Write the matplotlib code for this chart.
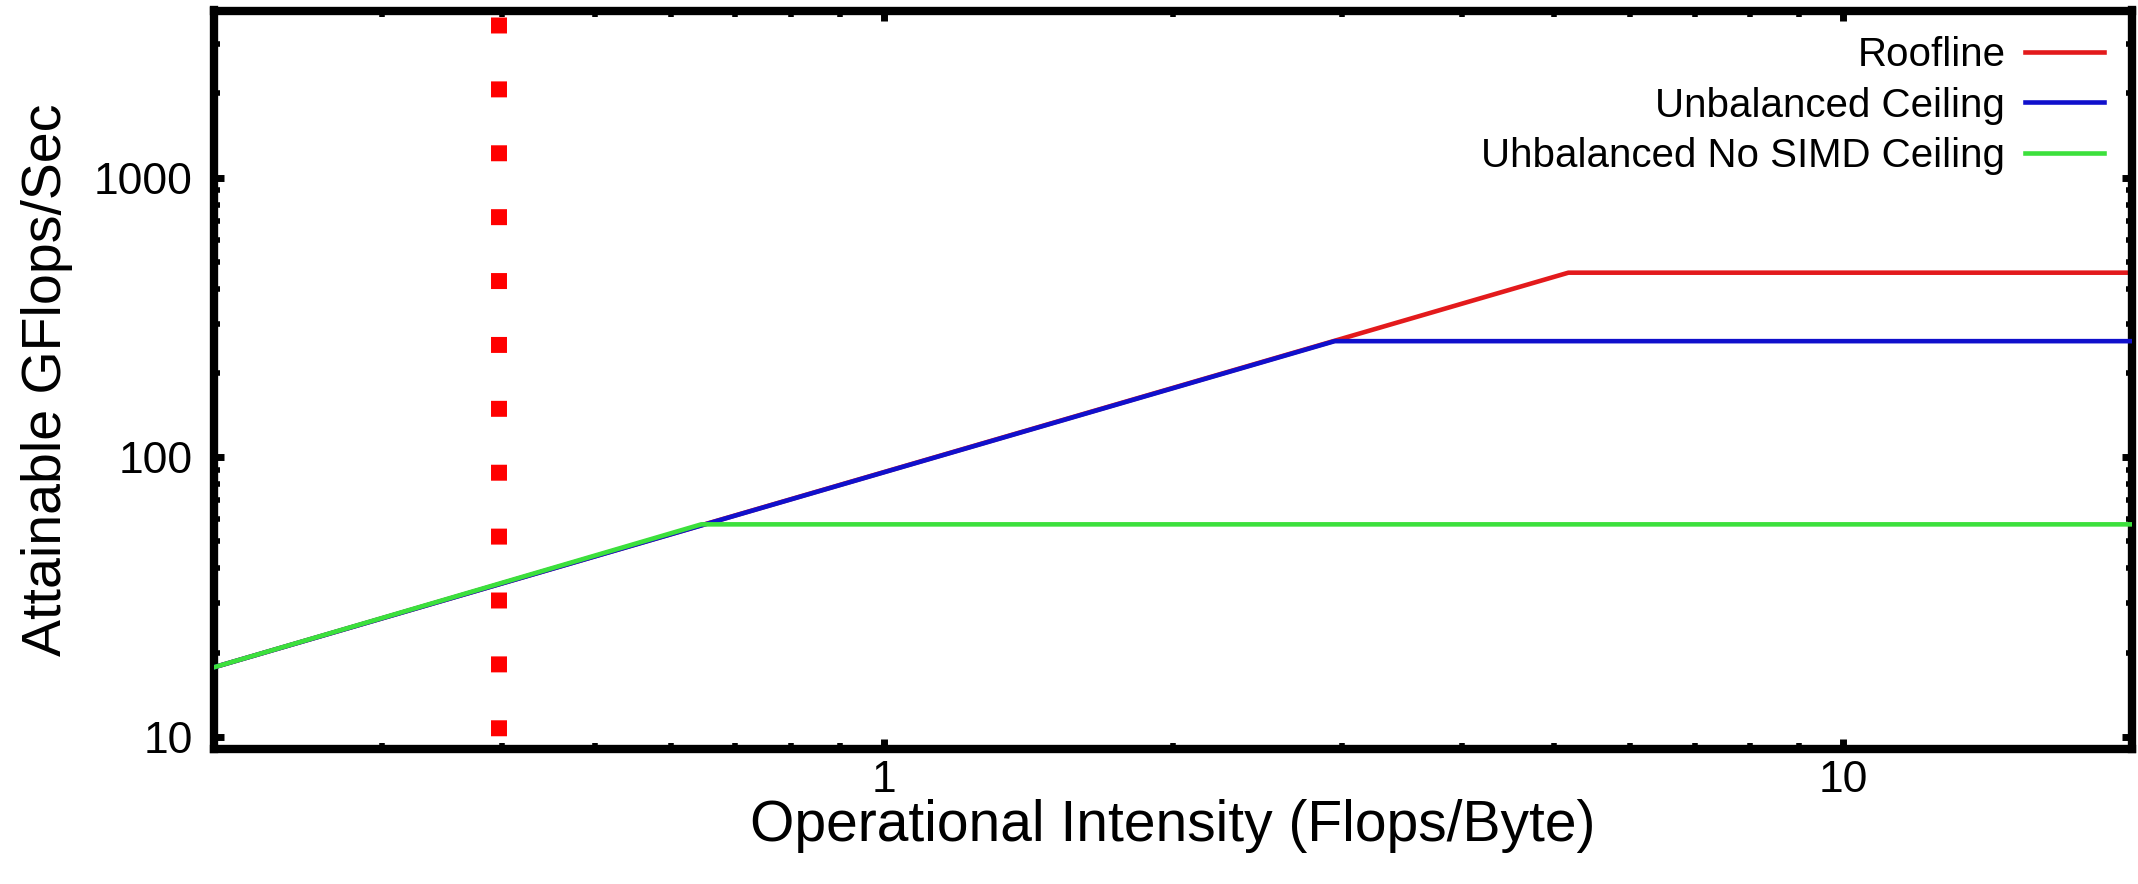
import matplotlib
matplotlib.use("Agg")
import matplotlib.pyplot as plt
from matplotlib.ticker import LogLocator, FuncFormatter, NullFormatter

plt.rcParams['font.family'] = ['Liberation Sans', 'DejaVu Sans']

# lecturas del grafico (log-log)
roofline_x = [0.2, 5.17, 20]
roofline_y = [17.7, 457, 457]

unbal_x = [0.2, 2.95, 20]
unbal_y = [17.7, 260, 260]

nosimd_x = [0.2, 0.645, 20]
nosimd_y = [17.7, 57.5, 57.5]

linha_oi = 0.397

cor_roof = '#e31a1c'
cor_unbal = '#1010cc'
cor_nosimd = '#3ce03c'

fig = plt.figure(figsize=(21.38, 8.84), dpi=100)
ax = fig.add_axes([213.5 / 2138, 1 - 749 / 884, (2132 - 213.5) / 2138, (749 - 10.5) / 884])

ax.set_xscale('log')
ax.set_yscale('log')
ax.set_xlim(0.2, 20)
ax.set_ylim(9.04, 3960)

# linha vertical pontilhada
ax.plot([linha_oi, linha_oi], [3960, 9.04], color='#ff0000', linewidth=11.5,
        linestyle=(3.53, (1, 3)), dash_capstyle='butt', solid_capstyle='butt', zorder=1)

ax.plot(roofline_x, roofline_y, color=cor_roof, linewidth=3.3, label='Roofline', zorder=2)
ax.plot(unbal_x, unbal_y, color=cor_unbal, linewidth=3.3, label='Unbalanced Ceiling', zorder=3)
ax.plot(nosimd_x, nosimd_y, color=cor_nosimd, linewidth=3.3, label='Uhbalanced No SIMD Ceiling', zorder=4)

for s in ax.spines.values():
    s.set_linewidth(6)

fmt = FuncFormatter(lambda v, p: '%g' % v)
ax.xaxis.set_major_locator(LogLocator(base=10))
ax.xaxis.set_minor_locator(LogLocator(base=10, subs=range(2, 10)))
ax.yaxis.set_major_locator(LogLocator(base=10))
ax.yaxis.set_minor_locator(LogLocator(base=10, subs=range(2, 10)))
ax.xaxis.set_major_formatter(fmt)
ax.yaxis.set_major_formatter(fmt)
ax.xaxis.set_minor_formatter(NullFormatter())
ax.yaxis.set_minor_formatter(NullFormatter())

ax.tick_params(which='both', direction='in', top=True, right=True)
ax.tick_params(which='major', length=7, width=5)
ax.tick_params(which='minor', length=4.5, width=4)
ax.tick_params(axis='y', which='major', labelsize=32, pad=15)
ax.tick_params(axis='x', which='major', labelsize=32, pad=8)

ax.set_xlabel('Operational Intensity (Flops/Byte)', fontsize=41)
ax.set_ylabel('Attainable GFlops/Sec', fontsize=40)
ax.xaxis.set_label_coords(0.5, -0.068)
ax.yaxis.set_label_coords(-0.073, 0.5)

ax.legend(loc='upper right', bbox_to_anchor=(1 - 28 / 1918.5, 1 - 26 / 738.5),
          frameon=False, fontsize=29, markerfirst=False, handlelength=1.95,
          handletextpad=0.5, labelspacing=0.3, borderpad=0, borderaxespad=0)

fig.savefig('out.png', dpi=100)
